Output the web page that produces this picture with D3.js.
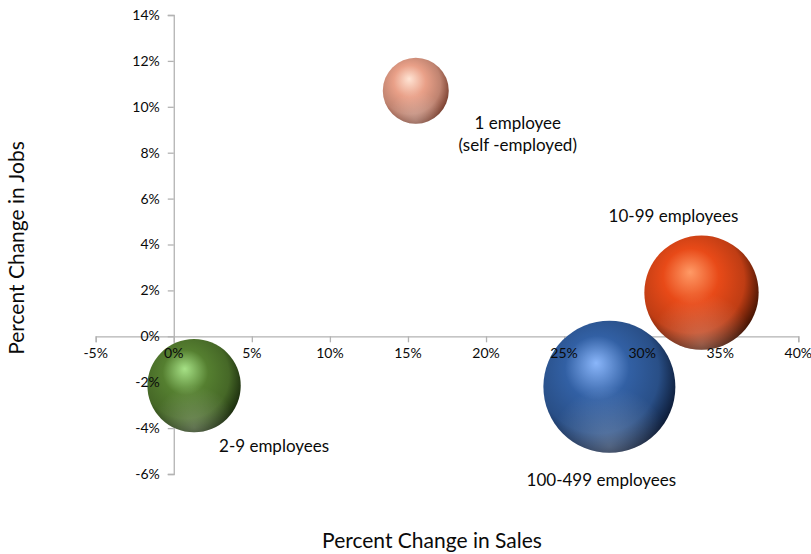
<!DOCTYPE html>
<html>
<head>
<meta charset="utf-8">
<script src="https://cdn.jsdelivr.net/npm/d3@7"></script>
<style>
  body { margin: 0; background: #fff; }
  text { font-family: Lato, "Open Sans", sans-serif; fill: #0a0a0a; }
</style>
</head>
<body>
<svg id="chart" width="811" height="554"></svg>
<script>
// data
const groups = ["1 employee", "2-9 employees", "10-99 employees", "100-499 employees"];
const salesChange = [15.5, 1.3, 33.8, 27.9];   // % change in sales
const jobsChange = [10.7, -2.15, 1.9, -2.2];   // % change in jobs
const bubbleSize = [1, 2, 3, 4];               // relative bubble area
const labelLines = [["1 employee", "(self -employed)"], ["2-9 employees"], ["10-99 employees"], ["100-499 employees"]];
const xTicks = [-5, 0, 5, 10, 15, 20, 25, 30, 35, 40];
const yTicks = [-6, -4, -2, 0, 2, 4, 6, 8, 10, 12, 14];

const palette = [
  { hi: "#ffe4d4", base: "#e9a088", dark: "#6e3424" },
  { hi: "#a6e186", base: "#557f30", dark: "#15240a" },
  { hi: "#ff9a66", base: "#e84a18", dark: "#2e0c00" },
  { hi: "#8ab6fa", base: "#3260a4", dark: "#08132a" }
];
// label offsets from the bubble centre, in px
const labelOffset = [[102, 32], [80, 60], [-28, -77], [-8, 93]];

const W = 811, H = 554;
const margin = { top: 15, right: 12.7, bottom: 80, left: 95.7 };

const svg = d3.select("#chart");
const x = d3.scaleLinear().domain([-5, 40]).range([margin.left, W - margin.right]);
const y = d3.scaleLinear().domain([-6, 14]).range([H - margin.bottom, margin.top]);
const r = d3.scaleSqrt().domain([0, 1]).range([0, 33]);

const data = groups.map((g, i) => ({
  name: g, sx: salesChange[i], jy: jobsChange[i], size: bubbleSize[i],
  lines: labelLines[i], col: palette[i], off: labelOffset[i], i
}));

// gradients
const defs = svg.append("defs");
data.forEach(d => {
  const g = defs.append("radialGradient").attr("id", "ball" + d.i)
    .attr("cx", "0.42").attr("cy", "0.42").attr("r", "0.64")
    .attr("fx", "0.4").attr("fy", "0.32");
  g.append("stop").attr("offset", "0").attr("stop-color", d.col.hi);
  g.append("stop").attr("offset", "0.38").attr("stop-color", d.col.base);
  g.append("stop").attr("offset", "0.72").attr("stop-color", d3.color(d.col.base).darker(0.55));
  g.append("stop").attr("offset", "1").attr("stop-color", d.col.dark);
});
const shine = defs.append("radialGradient").attr("id", "rim")
  .attr("cx", "0.5").attr("cy", "0.95").attr("r", "0.45");
shine.append("stop").attr("offset", "0").attr("stop-color", "#fff").attr("stop-opacity", 0.25);
shine.append("stop").attr("offset", "1").attr("stop-color", "#fff").attr("stop-opacity", 0);

// axes lines, crossing at zero
const axisColor = "#b3b3b3";
const xAxis = d3.axisBottom(x).tickValues(xTicks).tickSize(6).tickFormat(d => d + "%");
const yAxis = d3.axisLeft(y).tickValues(yTicks).tickSize(6).tickFormat(d => d + "%");

const gx = svg.append("g").attr("transform", `translate(0,${y(0)})`).call(xAxis);
const gy = svg.append("g").attr("transform", `translate(${x(0)},0)`).call(yAxis);
[gx, gy].forEach(g => {
  g.select(".domain").attr("stroke", axisColor).attr("stroke-width", 1.3);
  g.selectAll(".tick line").attr("stroke", axisColor).attr("stroke-width", 1.3);
  g.selectAll(".tick text").remove();
});

// bubbles
const balls = svg.append("g").selectAll("g").data(data).join("g")
  .attr("transform", d => `translate(${x(d.sx)},${y(d.jy)})`);
balls.append("circle").attr("r", d => r(d.size)).attr("fill", d => `url(#ball${d.i})`);
balls.append("circle").attr("r", d => r(d.size)).attr("fill", "url(#rim)");

// tick labels on top of the bubbles
svg.append("g").selectAll("text").data(xTicks).join("text")
  .attr("x", d => x(d)).attr("y", y(0) + 22)
  .attr("text-anchor", "middle").attr("font-size", 14).text(d => d + "%");
svg.append("g").selectAll("text").data(yTicks).join("text")
  .attr("x", x(0) - 14).attr("y", d => y(d)).attr("dy", "0.35em")
  .attr("text-anchor", "end").attr("font-size", 14).text(d => d + "%");

// bubble labels
svg.append("g").selectAll("text").data(data).join("text")
  .attr("text-anchor", "middle").attr("font-size", 17)
  .attr("transform", d => `translate(${x(d.sx) + d.off[0]},${y(d.jy) + d.off[1]})`)
  .selectAll("tspan").data(d => d.lines).join("tspan")
  .attr("x", 0).attr("y", (t, k) => k * 22).attr("dy", "0.35em").text(t => t);

// axis titles
svg.append("text").attr("x", 432).attr("y", 541).attr("dy", "0.35em")
  .attr("text-anchor", "middle").attr("font-size", 21).text("Percent Change in Sales");
svg.append("text").attr("transform", "translate(17,248) rotate(-90)").attr("dy", "0.35em")
  .attr("text-anchor", "middle").attr("font-size", 21).text("Percent Change in Jobs");
</script>
</body>
</html>
